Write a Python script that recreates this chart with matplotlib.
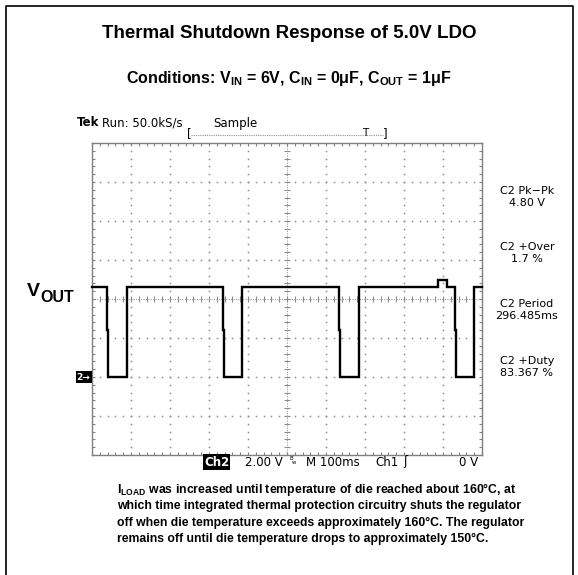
import matplotlib.pyplot as plt
from matplotlib.lines import Line2D
import numpy as np

# channel 2 capture, 2 V/div and 100 ms/div, ground two divisions above the bottom
fall_ms = [38, 336, 633, 930]
rise_ms = [90, 385, 684, 980]
v_on = 4.6
v_knee = 2.4
v_off = 0.0
glitch_ms = [887, 909]
v_glitch = 5.0

readout_names = ["C2 Pk\u2212Pk", "C2 +Over", "C2 Period", "C2 +Duty"]
readout_values = ["4.80 V", "1.7 %", "296.485ms", "83.367 %"]

body_lines = [
    r"$\mathrm{I}_{\mathrm{LOAD}}$ was increased until temperature of die reached about 160°C, at",
    "which time integrated thermal protection circuitry shuts the regulator",
    "off when die temperature exceeds approximately 160°C. The regulator",
    "remains off until die temperature drops to approximately 150°C.",
]

plt.rcParams["mathtext.fontset"] = "custom"
plt.rcParams["mathtext.rm"] = "Liberation Sans:bold"
plt.rcParams["mathtext.it"] = "Liberation Sans:bold"
plt.rcParams["mathtext.bf"] = "Liberation Sans:bold"

W, H = 578, 575
fig = plt.figure(figsize=(W / 100, H / 100), dpi=100)


def px(x, y):
    return x / W, 1 - y / H


sans = dict(family="Liberation Sans", weight="bold", color="black")
scope = dict(family="DejaVu Sans", color="black")
fs_scope = 8.5

# outer frame, open at the bottom
fig.add_artist(Line2D([5.5 / W, 5.5 / W, 572.5 / W, 572.5 / W], [0, 1 - 5.5 / H, 1 - 5.5 / H, 0],
                      transform=fig.transFigure, color="black", lw=1.2))

fig.text(*px(289, 33), "Thermal Shutdown Response of 5.0V LDO", ha="center", va="center",
         fontsize=13.5, **sans)
fig.text(*px(289, 78),
         r"Conditions: $\mathrm{V}_{\mathrm{IN}}$ = 6V, $\mathrm{C}_{\mathrm{IN}}$ = 0μF, "
         r"$\mathrm{C}_{\mathrm{OUT}}$ = 1μF",
         ha="center", va="center", fontsize=11.5, **sans)

# scope screen
x0, x1, y0, y1 = 92, 482, 143, 455
ax = fig.add_axes([x0 / W, 1 - y1 / H, (x1 - x0) / W, (y1 - y0) / H])
ax.set_xlim(0, 1000)
ax.set_ylim(-4, 12)
grid_c = "#8c8c8c"
for s in ax.spines.values():
    s.set_color("#808080")
    s.set_linewidth(1.0)
ax.set_xticks(np.arange(0, 1001, 100))
ax.set_yticks(np.arange(-4, 12.1, 2))
ax.set_xticks(np.arange(0, 1001, 20), minor=True)
ax.set_yticks(np.arange(-4, 12.1, 0.4), minor=True)
ax.tick_params(which="both", direction="in", top=True, right=True, length=2.5, width=0.8,
               color="#808080", labelbottom=False, labelleft=False)

ys_dot = np.arange(-4, 12.01, 0.4)
xs_dot = np.arange(0, 1000.1, 20)
for xk in range(100, 1000, 100):
    if xk != 500:
        ax.plot([xk] * len(ys_dot), ys_dot, ls="none", marker="s", ms=1.1, mew=0, color=grid_c)
for yk in range(-2, 12, 2):
    if yk != 4:
        ax.plot(xs_dot, [yk] * len(xs_dot), ls="none", marker="s", ms=1.1, mew=0, color=grid_c)

# centre cross with fine ticks
ax.axvline(500, ls=(0, (1, 1.5)), lw=0.7, color=grid_c)
ax.axhline(4, ls=(0, (1, 1.5)), lw=0.7, color=grid_c)
ax.plot([500] * len(ys_dot), ys_dot, ls="none", marker="_", ms=4, mew=0.8, color=grid_c)
ax.plot(xs_dot, [4] * len(xs_dot), ls="none", marker="|", ms=4, mew=0.8, color=grid_c)

# output voltage trace
t, v = [0.0], [v_on]
prev = 0
for f, r in zip(fall_ms, rise_ms):
    if prev < glitch_ms[0] < f:
        t += [glitch_ms[0], glitch_ms[0], glitch_ms[1], glitch_ms[1]]
        v += [v_on, v_glitch, v_glitch, v_on]
    t += [f, f, f + 2.5, f + 2.5, r, r]
    v += [v_on, v_knee, v_knee, v_off, v_off, v_on]
    prev = r
t.append(1000)
v.append(v_on)
ax.plot(t, v, color="black", lw=1.7, solid_joinstyle="miter", clip_on=False, zorder=5)

# ground reference marker
ax.text(-0.004, 0, "2\u2192", transform=ax.get_yaxis_transform(), ha="right", va="center",
        fontsize=6.5, weight="bold", color="white", family="DejaVu Sans",
        bbox=dict(boxstyle="square,pad=0.12", fc="black", ec="none"))

fig.text(*px(27, 291), "V", ha="left", va="center", fontsize=14, **sans)
fig.text(*px(40, 297), "OUT", ha="left", va="center", fontsize=11.5, **sans)

# acquisition header
fig.text(*px(77, 123), "Tek", ha="left", va="center", fontsize=fs_scope, weight="bold", **scope)
fig.text(*px(102, 123), "Run: 50.0kS/s", ha="left", va="center", fontsize=fs_scope, **scope)
fig.text(*px(213, 123), "Sample", ha="left", va="center", fontsize=fs_scope, **scope)
fig.add_artist(Line2D([191 / W, 383 / W], [1 - 135 / H] * 2, transform=fig.transFigure,
                      color="#909090", lw=0.8, ls=(0, (1, 1))))
fig.text(*px(189, 134), "[", ha="center", va="center", fontsize=fs_scope, **scope)
fig.text(*px(385, 134), "]", ha="center", va="center", fontsize=fs_scope, **scope)
fig.text(*px(365, 133), "T", ha="center", va="center", fontsize=7.5, **scope)

# measurement readouts
for i, (name, val) in enumerate(zip(readout_names, readout_values)):
    yc = 191 + 56.5 * i
    fig.text(*px(527, yc), name, ha="center", va="center", fontsize=8, **scope)
    fig.text(*px(527, yc + 12), val, ha="center", va="center", fontsize=8, **scope)

# status line
fig.text(*px(204, 462), "Ch2", ha="left", va="center", fontsize=fs_scope, weight="bold",
         family="DejaVu Sans", color="white",
         bbox=dict(boxstyle="square,pad=0.1", fc="black", ec="none"))
fig.text(*px(245, 462), "2.00 V", ha="left", va="center", fontsize=fs_scope, **scope)
fig.text(*px(290, 461), "B", ha="left", va="bottom", fontsize=3.8, **scope)
fig.text(*px(292, 463), "w", ha="left", va="center", fontsize=3.8, **scope)
fig.text(*px(306, 462), "M 100ms", ha="left", va="center", fontsize=fs_scope, **scope)
fig.text(*px(375, 462), "Ch1", ha="left", va="center", fontsize=fs_scope, **scope)
fig.text(*px(403, 462), "\u0283", ha="left", va="center", fontsize=fs_scope, **scope)
fig.text(*px(478, 462), "0 V", ha="right", va="center", fontsize=fs_scope, **scope)

# description below the capture
for i, line in enumerate(body_lines):
    fig.text(*px(117, 490 + 16.3 * i), line, ha="left", va="center", fontsize=8.8, **sans)

fig.savefig("out.png", dpi=100)
